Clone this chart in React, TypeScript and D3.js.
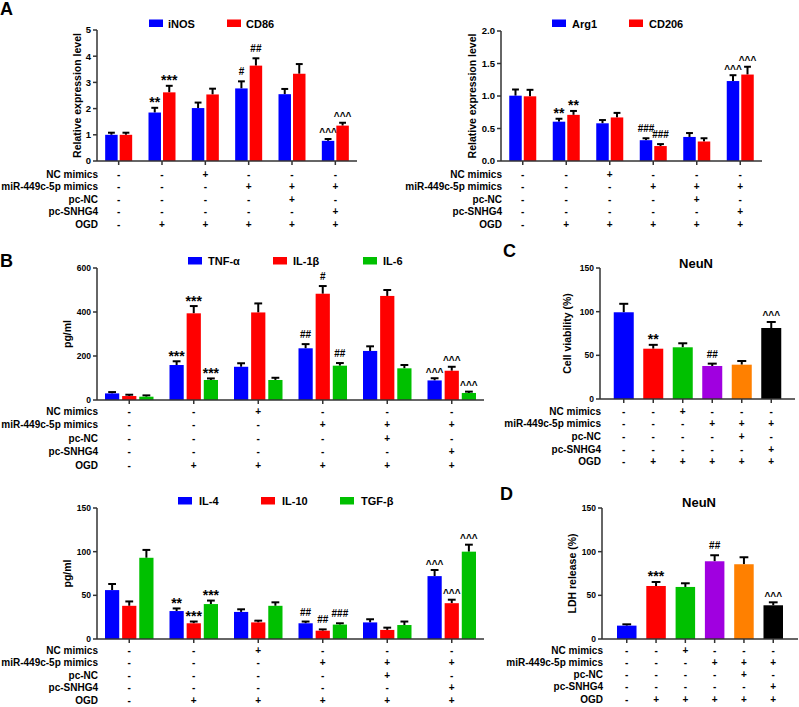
import React from "react";
import * as d3 from "d3";

const FONT = "'Liberation Sans', Arial, Helvetica, sans-serif";

// ---------- shared design table ----------
const groupIds = ["G1", "G2", "G3", "G4", "G5", "G6"];
const conditionLabels = ["NC mimics", "miR-449c-5p mimics", "pc-NC", "pc-SNHG4", "OGD"];
const ncMimicsSigns = ["-", "-", "+", "-", "-", "-"];
const mir449Signs = ["-", "-", "-", "+", "+", "+"];
const pcNCSigns = ["-", "-", "-", "-", "+", "-"];
const pcSNHG4Signs = ["-", "-", "-", "-", "-", "+"];
const ogdSigns = ["-", "+", "+", "+", "+", "+"];
const conditionSigns = [ncMimicsSigns, mir449Signs, pcNCSigns, pcSNHG4Signs, ogdSigns];

// ---------- Panel A left ----------
const iNOSValues = [1.0, 1.85, 2.02, 2.77, 2.55, 0.77];
const iNOSErrors = [0.08, 0.18, 0.21, 0.27, 0.2, 0.07];
const iNOSMarks = ["", "**", "", "#", "", "^^^"];
const cd86Values = [1.0, 2.62, 2.54, 3.64, 3.33, 1.35];
const cd86Errors = [0.08, 0.25, 0.22, 0.28, 0.37, 0.11];
const cd86Marks = ["", "***", "", "##", "", "^^^"];
const aLeftTicks = [0, 1, 2, 3, 4, 5];

// ---------- Panel A right ----------
const arg1Values = [1.005, 0.605, 0.58, 0.32, 0.37, 1.23];
const arg1Errors = [0.095, 0.045, 0.05, 0.03, 0.06, 0.09];
const arg1Marks = ["", "**", "", "###", "", "^^^"];
const cd206Values = [0.995, 0.71, 0.67, 0.23, 0.3, 1.33];
const cd206Errors = [0.1, 0.06, 0.07, 0.03, 0.05, 0.12];
const cd206Marks = ["", "**", "", "###", "", "^^^"];
const aRightTicks = [0, 0.5, 1.0, 1.5, 2.0];

// ---------- Panel B top ----------
const tnfValues = [30, 159, 151, 235, 223, 89];
const tnfErrors = [6, 17, 16, 19, 21, 10];
const tnfMarks = ["", "***", "", "##", "", "^^^"];
const il1bValues = [18, 394, 398, 483, 473, 133];
const il1bErrors = [6, 33, 41, 35, 27, 18];
const il1bMarks = ["", "***", "", "#", "", "^^^"];
const il6Values = [15, 91, 91, 156, 144, 32];
const il6Errors = [6, 7, 10, 12, 15, 6];
const il6Marks = ["", "***", "", "##", "", "^^^"];
const bTopTicks = [0, 200, 400, 600];

// ---------- Panel B bottom ----------
const il4Values = [56, 32, 31, 18, 19, 72];
const il4Errors = [7, 3, 3, 2, 3.6, 7];
const il4Marks = ["", "**", "", "##", "", "^^^"];
const il10Values = [38, 18, 19, 9.5, 10.4, 41];
const il10Errors = [5, 2, 2, 1.5, 2.6, 4];
const il10Marks = ["", "***", "", "##", "", "^^^"];
const tgfValues = [93, 40, 38, 16.5, 16, 100];
const tgfErrors = [9, 4, 4, 1.5, 4, 8];
const tgfMarks = ["", "***", "", "###", "", "^^^"];
const bBottomTicks = [0, 50, 100, 150];

// ---------- Panel C ----------
const viabilityValues = [99.3, 57.6, 59.2, 37.8, 39.3, 81.3];
const viabilityErrors = [9.7, 4.4, 4.6, 2.7, 4.2, 6.9];
const viabilityMarks = ["", "**", "", "##", "", "^^^"];
const cTicks = [0, 50, 100, 150];

// ---------- Panel D ----------
const ldhValues = [15.3, 60.7, 59.6, 89, 85.6, 38.6];
const ldhErrors = [1.5, 4.6, 4.2, 6.9, 8, 3.4];
const ldhMarks = ["", "***", "", "##", "", "^^^"];
const dTicks = [0, 50, 100, 150];

const singleColors = ["#0000ff", "#ff0000", "#00c000", "#a000e0", "#ff8000", "#000000"];

type Series = { name: string; color: string; values: number[]; errors: number[]; marks: string[] };

function markStyle(m: string) {
  if (m.startsWith("*")) return { size: 14, off: 0.5 };
  if (m.startsWith("#")) return { size: 10, off: 6 };
  return { size: 10, off: 2.5 };
}

function Mark({ x, y, text }: { x: number; y: number; text: string }) {
  if (!text) return null;
  const s = markStyle(text);
  return (
    <text x={x} y={y - s.off} fontSize={s.size} fontWeight="bold" textAnchor="middle" fill="#000" fontFamily={FONT}>
      {text}
    </text>
  );
}

function ErrorBar({ x, y0, y1, w }: { x: number; y0: number; y1: number; w: number }) {
  return (
    <g stroke="#000" strokeWidth={2}>
      <line x1={x} x2={x} y1={y0} y2={y1} />
      <line x1={x - w / 2} x2={x + w / 2} y1={y1} y2={y1} />
    </g>
  );
}

function Axes({ x0, x1, y, ticks, fmt, tickFont, centers }: any) {
  const [yBottom, yTop] = y.range();
  return (
    <g fontFamily={FONT} fontWeight="bold">
      <line x1={x0} x2={x0} y1={yBottom} y2={yTop} stroke="#333" strokeWidth={1.5} />
      <line x1={x0} x2={x1} y1={yBottom} y2={yBottom} stroke="#333" strokeWidth={1.5} />
      {ticks.map((t: number) => (
        <g key={t}>
          <line x1={x0 - 4} x2={x0} y1={y(t)} y2={y(t)} stroke="#333" strokeWidth={1.5} />
          <text x={x0 - 6} y={y(t) + tickFont * 0.36} fontSize={tickFont} textAnchor="end" fill="#000">
            {fmt(t)}
          </text>
        </g>
      ))}
      {centers.map((c: number, i: number) => (
        <line key={i} x1={c} x2={c} y1={yBottom} y2={yBottom + 4} stroke="#333" strokeWidth={1.5} />
      ))}
    </g>
  );
}

function Table({ x0, centers, yBottom, rowStart, rowStep }: any) {
  return (
    <g fontFamily={FONT} fontWeight="bold" fontSize={10} fill="#000">
      {conditionLabels.map((lab, r) => {
        const yc = yBottom + rowStart + r * rowStep + 3.5;
        return (
          <g key={lab}>
            <text x={x0 + 1} y={yc} textAnchor="end">{lab}</text>
            {conditionSigns[r].map((s, i) => (
              <text key={i} x={centers[i]} y={yc} textAnchor="middle">{s}</text>
            ))}
          </g>
        );
      })}
    </g>
  );
}

function YLabel({ x, y, text }: { x: number; y: number; text: string }) {
  return (
    <text
      transform={`translate(${x},${y}) rotate(-90)`}
      textAnchor="middle"
      dominantBaseline="central"
      fontSize={10.5}
      fontWeight="bold"
      fontFamily={FONT}
      fill="#000"
    >
      {text}
    </text>
  );
}

function Legend({ series, xs, y, gap }: { series: Series[]; xs: number[]; y: number; gap: number }) {
  return (
    <g fontFamily={FONT} fontWeight="bold" fontSize={11}>
      {series.map((s, i) => (
        <g key={s.name}>
          <rect x={xs[i]} y={y} width={14} height={7.5} fill={s.color} />
          <text x={xs[i] + 14 + gap} y={y + 8} fill="#000">{s.name}</text>
        </g>
      ))}
    </g>
  );
}

function GroupedPanel(props: any) {
  const { series, x0, x1, yTop, yBottom, max, ticks, fmt, tickFont, groupW, innerPad, legendXs, legendY, legendGap, yLabel, yLabelX, rowStart, rowStep } = props;
  const outer = d3.scaleBand<string>().domain(groupIds).range([x0, x1]);
  const inner = d3.scaleBand<string>().domain(series.map((s: Series) => s.name)).range([-groupW / 2, groupW / 2]).paddingInner(innerPad);
  const y = d3.scaleLinear().domain([0, max]).range([yBottom, yTop]);
  const centers = groupIds.map((g) => (outer(g) as number) + outer.bandwidth() / 2);
  const bw = inner.bandwidth();
  return (
    <g>
      <Legend series={series} xs={legendXs} y={legendY} gap={legendGap} />
      {series.map((s: Series) =>
        s.values.map((v, i) => {
          const bx = centers[i] + (inner(s.name) as number);
          const cx = bx + bw / 2;
          const top = y(v + s.errors[i]);
          return (
            <g key={s.name + i}>
              <ErrorBar x={cx} y0={y(v)} y1={top} w={bw * 0.55} />
              <rect x={bx} y={y(v)} width={bw} height={yBottom - y(v)} fill={s.color} />
              <Mark x={cx} y={top} text={s.marks[i]} />
            </g>
          );
        })
      )}
      <Axes x0={x0} x1={x1} y={y} ticks={ticks} fmt={fmt} tickFont={tickFont} centers={centers} />
      <YLabel x={yLabelX} y={(yTop + yBottom) / 2} text={yLabel} />
      <Table x0={x0} centers={centers} yBottom={yBottom} rowStart={rowStart} rowStep={rowStep} />
    </g>
  );
}

function SinglePanel(props: any) {
  const { values, errors, marks, x0, x1, yTop, yBottom, max, ticks, tickFont, padIn, padOut, title, titleX, titleY, yLabel, yLabelX, rowStart, rowStep } = props;
  const xb = d3.scaleBand<string>().domain(groupIds).range([x0, x1]).paddingInner(padIn).paddingOuter(padOut);
  const y = d3.scaleLinear().domain([0, max]).range([yBottom, yTop]);
  const bw = xb.bandwidth();
  const centers = groupIds.map((g) => (xb(g) as number) + bw / 2);
  return (
    <g>
      <text x={titleX} y={titleY} textAnchor="middle" fontSize={13} fontWeight="bold" fontFamily={FONT} fill="#000">
        {title}
      </text>
      {values.map((v: number, i: number) => {
        const bx = xb(groupIds[i]) as number;
        const top = y(v + errors[i]);
        return (
          <g key={i}>
            <ErrorBar x={centers[i]} y0={y(v)} y1={top} w={bw * 0.45} />
            <rect x={bx} y={y(v)} width={bw} height={yBottom - y(v)} fill={singleColors[i]} />
            <Mark x={centers[i]} y={top} text={marks[i]} />
          </g>
        );
      })}
      <Axes x0={x0} x1={x1} y={y} ticks={ticks} fmt={d3.format("d")} tickFont={tickFont} centers={centers} />
      <YLabel x={yLabelX} y={(yTop + yBottom) / 2} text={yLabel} />
      <Table x0={x0} centers={centers} yBottom={yBottom} rowStart={rowStart} rowStep={rowStep} />
    </g>
  );
}

function PanelLetter({ x, y, t }: { x: number; y: number; t: string }) {
  return (
    <text x={x} y={y} fontSize={18} fontWeight="bold" fontFamily={FONT} fill="#000">
      {t}
    </text>
  );
}

export default function App() {
  const aLeft: Series[] = [
    { name: "iNOS", color: "#0000ff", values: iNOSValues, errors: iNOSErrors, marks: iNOSMarks },
    { name: "CD86", color: "#ff0000", values: cd86Values, errors: cd86Errors, marks: cd86Marks },
  ];
  const aRight: Series[] = [
    { name: "Arg1", color: "#0000ff", values: arg1Values, errors: arg1Errors, marks: arg1Marks },
    { name: "CD206", color: "#ff0000", values: cd206Values, errors: cd206Errors, marks: cd206Marks },
  ];
  const bTop: Series[] = [
    { name: "TNF-α", color: "#0000ff", values: tnfValues, errors: tnfErrors, marks: tnfMarks },
    { name: "IL-1β", color: "#ff0000", values: il1bValues, errors: il1bErrors, marks: il1bMarks },
    { name: "IL-6", color: "#00c000", values: il6Values, errors: il6Errors, marks: il6Marks },
  ];
  const bBottom: Series[] = [
    { name: "IL-4", color: "#0000ff", values: il4Values, errors: il4Errors, marks: il4Marks },
    { name: "IL-10", color: "#ff0000", values: il10Values, errors: il10Errors, marks: il10Marks },
    { name: "TGF-β", color: "#00c000", values: tgfValues, errors: tgfErrors, marks: tgfMarks },
  ];
  const intFmt = d3.format("d");
  return (
    <svg width={799} height={707} style={{ position: "absolute", left: 0, top: 0, background: "#fff" }}>
      <rect width={799} height={707} fill="#fff" />
      <PanelLetter x={0} y={15} t="A" />
      <PanelLetter x={0} y={267} t="B" />
      <PanelLetter x={503} y={257} t="C" />
      <PanelLetter x={500} y={500} t="D" />

      <GroupedPanel
        series={aLeft} x0={97} x1={357} yTop={30} yBottom={161} max={5} ticks={aLeftTicks} fmt={intFmt} tickFont={9.5}
        groupW={27} innerPad={0.14} legendXs={[149, 227]} legendY={19.5} legendGap={5}
        yLabel="Relative expression level" yLabelX={77} rowStart={13} rowStep={12.6}
      />
      <GroupedPanel
        series={aRight} x0={501} x1={762} yTop={31} yBottom={161} max={2} ticks={aRightTicks} fmt={d3.format(".1f")} tickFont={9.5}
        groupW={27} innerPad={0.14} legendXs={[552, 629]} legendY={19.5} legendGap={6}
        yLabel="Relative expression level" yLabelX={472} rowStart={13} rowStep={12.6}
      />
      <GroupedPanel
        series={bTop} x0={97} x1={484} yTop={268} yBottom={400} max={600} ticks={bTopTicks} fmt={intFmt} tickFont={8.5}
        groupW={48.5} innerPad={0.17} legendXs={[188, 273, 363]} legendY={257} legendGap={6}
        yLabel="pg/ml" yLabelX={67} rowStart={11.5} rowStep={13.4}
      />
      <GroupedPanel
        series={bBottom} x0={97} x1={484} yTop={508} yBottom={639} max={150} ticks={bBottomTicks} fmt={intFmt} tickFont={8.5}
        groupW={48.5} innerPad={0.17} legendXs={[178, 261, 340]} legendY={497} legendGap={7}
        yLabel="pg/ml" yLabelX={67} rowStart={11.5} rowStep={12.4}
      />
      <SinglePanel
        values={viabilityValues} errors={viabilityErrors} marks={viabilityMarks}
        x0={600} x1={795} yTop={268} yBottom={399} max={150} ticks={cTicks} tickFont={8.5}
        padIn={0.322} padOut={0.466} title="NeuN" titleX={696} titleY={268}
        yLabel="Cell viability (%)" yLabelX={567} rowStart={12} rowStep={12.7}
      />
      <SinglePanel
        values={ldhValues} errors={ldhErrors} marks={ldhMarks}
        x0={602} x1={798} yTop={508} yBottom={639} max={150} ticks={dTicks} tickFont={8.5}
        padIn={0.334} padOut={0.512} title="NeuN" titleX={699} titleY={507}
        yLabel="LDH release (%)" yLabelX={572} rowStart={11} rowStep={12.3}
      />
    </svg>
  );
}
